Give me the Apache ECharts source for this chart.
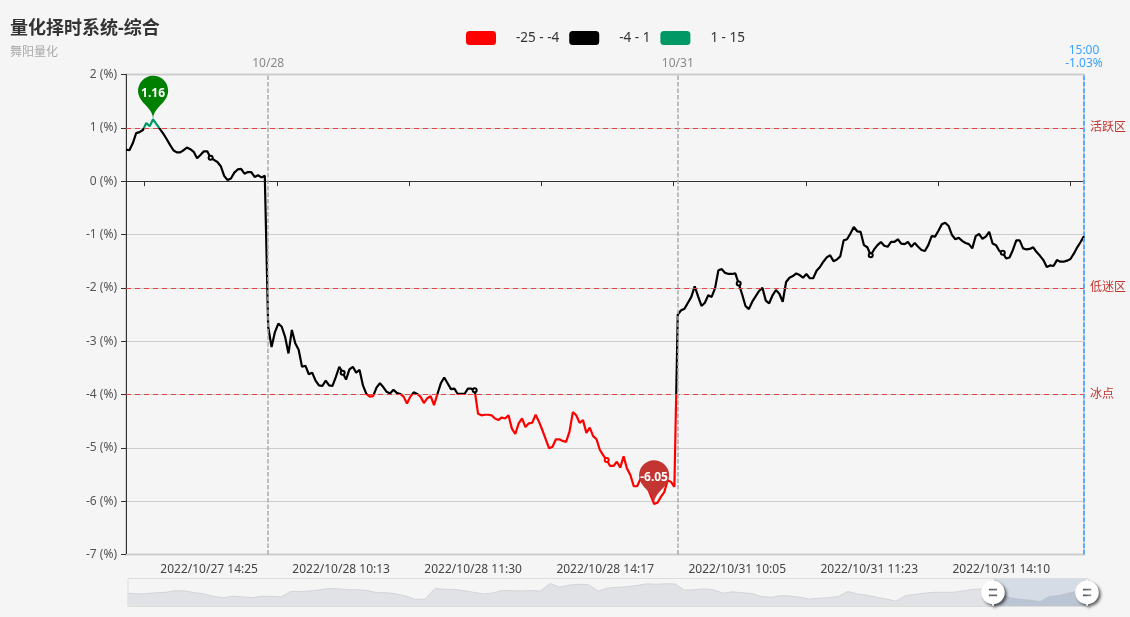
<!DOCTYPE html>
<html>
<head>
<meta charset="utf-8">
<style>html,body{margin:0;padding:0;background:#f5f5f5}#c{width:1130px;height:617px}</style>
<script src="https://cdn.jsdelivr.net/npm/echarts@6/dist/echarts.min.js"></script>
</head>
<body>
<div id="c"></div>
<script>
var titleText = '量化择时系统-综合';
var subText = '舞阳量化';
var tickLabels = ['2022/10/27 14:25','2022/10/28 10:13','2022/10/28 11:30','2022/10/28 14:17','2022/10/31 10:05','2022/10/31 11:23','2022/10/31 14:10'];
var values1027 = [.59,.58,.71,.90,.92,.96,1.09,1.03,1.16,1.07,.98,.89,.79,.68,.58,.54,.54,.58,.63,.60,.55,.43,.49,.56,.56,.44,.40,.36,.28,.10,.02,.05,.16,.22,.23,.14,.17,.17,.08,.11,.07,.10];
var values1028 = [-2.73,-3.11,-2.83,-2.67,-2.73,-2.92,-3.23,-2.79,-3.04,-3.16,-3.48,-3.46,-3.62,-3.59,-3.74,-3.83,-3.84,-3.74,-3.83,-3.84,-3.67,-3.48,-3.59,-3.72,-3.53,-3.48,-3.59,-3.54,-3.83,-3.99,-4.04,-4.03,-3.87,-3.79,-3.86,-3.95,-3.98,-3.91,-3.97,-3.99,-4.04,-4.17,-4.04,-3.96,-3.99,-4.04,-4.16,-4.07,-4.03,-4.2,-3.99,-3.79,-3.68,-3.79,-3.9,-3.89,-3.99,-3.99,-3.99,-3.89,-3.89,-3.92,-4.36,-4.39,-4.38,-4.38,-4.39,-4.45,-4.48,-4.43,-4.45,-4.39,-4.64,-4.74,-4.54,-4.45,-4.61,-4.54,-4.53,-4.38,-4.51,-4.67,-4.84,-5.01,-4.98,-4.84,-4.84,-4.87,-4.89,-4.7,-4.33,-4.39,-4.53,-4.48,-4.72,-4.62,-4.78,-4.84,-5.04,-5.14,-5.23,-5.34,-5.34,-5.26,-5.37,-5.16,-5.39,-5.51,-5.72,-5.72,-5.58,-5.58,-5.73,-5.89,-6.05,-6.03,-5.92,-5.83,-5.61,-5.64,-5.73];
var values1031 = [-2.5,-2.42,-2.39,-2.28,-2.17,-1.97,-2.16,-2.34,-2.28,-2.14,-2.17,-2.01,-1.67,-1.65,-1.72,-1.74,-1.74,-1.73,-1.92,-2.12,-2.34,-2.4,-2.26,-2.16,-2.06,-2.0,-2.24,-2.29,-2.14,-2.04,-2.11,-2.26,-1.89,-1.81,-1.78,-1.73,-1.76,-1.81,-1.74,-1.82,-1.82,-1.68,-1.61,-1.51,-1.43,-1.39,-1.5,-1.47,-1.41,-1.11,-1.09,-.98,-.86,-.94,-.95,-1.2,-1.24,-1.39,-1.28,-1.2,-1.14,-1.21,-1.23,-1.14,-1.14,-1.09,-1.17,-1.18,-1.14,-1.23,-1.16,-1.23,-1.29,-1.31,-1.2,-1.03,-1.04,-.93,-.81,-.78,-.84,-1.01,-1.09,-1.06,-1.12,-1.16,-1.18,-1.26,-1.03,-.99,-1.08,-1.04,-.95,-1.17,-1.2,-1.31,-1.34,-1.45,-1.43,-1.29,-1.11,-1.11,-1.26,-1.28,-1.27,-1.24,-1.33,-1.4,-1.48,-1.61,-1.58,-1.59,-1.48,-1.51,-1.51,-1.49,-1.46,-1.36,-1.24,-1.14,-1.03];
var historyValues = [-5.2,-5.4,-5.3,-5.1,-5.0,-4.6,-4.7,-5.1,-5.4,-6.0,-6.3,-5.9,-6.1,-6.3,-5.9,-6.0,-6.1,-4.8,-4.8,-4.7,-4.4,-4.1,-4.2,-4.4,-4.4,-4.6,-5.1,-5.1,-5.4,-5.9,-6.7,-6.6,-4.1,-4.3,-4.3,-4.6,-5.0,-5.4,-5.2,-4.6,-4.6,-4.7,-4.6,-4.7,-2.9,-3.8,-3.3,-3.1,-3.2,-4.7,-4.0,-3.8,-3.7,-3.4,-3.0,-3.1,-3.0,-3.0,-4.5,-4.4,-4.2,-4.4,-5.2,-4.9,-5.1,-5.3,-6.0,-6.2,-5.8,-5.9,-6.2,-6.6,-6.4,-6.3,-6.0,-4.8,-5.4,-5.7,-6.2,-6.6,-7.1,-5.8,-5.5,-5.2,-5.0,-5.0,-5.0,-4.7,-4.3,-4.2,-4.4,-5.6,-6.4,-6.7,-6.9,-7.2,-6.0,-5.8,-5.2,-4.8,-4.6];
var series = values1027.concat(values1028, values1031);
var day28Index = values1027.length, day31Index = day28Index + values1028.length, lastIndex = series.length - 1;
var labelIndex = [25, 64, 103, 142, 181, 220, 259];
var tickSlots = 566, firstTickSlot = 11, tickStep = 78;

function pad(n) { return (n < 10 ? '0' : '') + n; }
function clock(day, n) {
  var mins = n <= 120 ? 570 + n : 780 + n - 120;
  return '2022/' + day + ' ' + Math.floor(mins / 60) + ':' + pad(mins % 60);
}
var categories = series.map(function (v, k) {
  var pos = labelIndex.indexOf(k);
  if (pos >= 0) return tickLabels[pos];
  if (k < day28Index) return clock('10/27', 240 - (day28Index - 1 - k) * 2);
  if (k < day31Index) return clock('10/28', (k - day28Index) * 2);
  return clock('10/31', (k - day31Index) * 2);
});
var tickCategories = [];
for (var i = 0; i < tickSlots; i++) tickCategories.push('t' + i);
var historyCategories = historyValues.map(function (v, i) { return 'h' + i; });

var fontFamily = '"Noto Sans","Noto Sans CJK SC",sans-serif';
var chart = echarts.init(document.getElementById('c'));
function hLine(y, text) {
  return { yAxis: y, lineStyle: { color: '#e04545', type: [5, 4], width: 1 },
    label: { show: true, position: 'end', formatter: text, color: '#c23531', fontSize: 12, distance: 6 } };
}
function vLine(idx, text, color, labelColor, width) {
  return { xAxis: idx, lineStyle: { color: color, type: [4.5, 2], width: width },
    label: { show: true, position: 'end', formatter: text, color: labelColor, fontSize: 12, lineHeight: 13, distance: 4 } };
}
chart.setOption({
  backgroundColor: '#f5f5f5',
  textStyle: { fontFamily: fontFamily },
  animation: false,
  title: {
    text: titleText, subtext: subText, left: 5, top: 15, itemGap: 9,
    textStyle: { fontSize: 18, fontWeight: 'bold', color: '#333', fontFamily: fontFamily },
    subtextStyle: { fontSize: 12, color: '#aaa', fontFamily: fontFamily }
  },
  visualMap: {
    type: 'piecewise', seriesIndex: 0, orient: 'horizontal', left: 451, top: 16,
    itemWidth: 30, itemHeight: 14, itemGap: 10, textGap: 20, itemSymbol: 'roundRect',
    textStyle: { color: '#333', fontSize: 13.5 },
    pieces: [
      { gt: -25, lte: -4, color: '#ff0000' },
      { gt: -4, lte: 1, color: '#000000' },
      { gt: 1, lte: 15, color: '#009966' }
    ]
  },
  grid: [
    { left: 126, right: 46, top: 74.5, bottom: 62.5, show: true, borderColor: '#d2d2d2', borderWidth: 2, backgroundColor: 'transparent' },
    { left: 0, top: 0, width: 10, height: 10 }
  ],
  xAxis: [
    { type: 'category', gridIndex: 0, position: 'bottom', boundaryGap: false, data: categories,
      axisLine: { onZero: false, lineStyle: { color: '#ccc' } }, axisTick: { show: false },
      axisLabel: { color: '#444', fontSize: 12, margin: 9, hideOverlap: false, padding: [0, 3, 0, 0],
        interval: function (i) { return labelIndex.indexOf(i) >= 0; } },
      splitLine: { show: false } },
    { type: 'category', gridIndex: 0, position: 'top', boundaryGap: false, data: tickCategories,
      axisLine: { onZero: true, lineStyle: { color: '#333' } },
      axisTick: { show: true, inside: true, length: 5, lineStyle: { color: '#333' },
        interval: function (i) { return i >= firstTickSlot && (i - firstTickSlot) % tickStep === 0; } },
      axisLabel: { show: false }, splitLine: { show: false } },
    { type: 'category', gridIndex: 1, show: false, data: historyCategories }
  ],
  yAxis: [
    { type: 'value', gridIndex: 0, min: -7, max: 2, interval: 1,
      axisLine: { show: true, lineStyle: { color: '#333' } }, axisTick: { show: true, length: 5, lineStyle: { color: '#333' } },
      axisLabel: { formatter: '{value} (%)', color: '#555', fontSize: 12, margin: 9 },
      splitLine: { show: true, lineStyle: { color: '#ccc', width: 1 } } },
    { type: 'value', gridIndex: 1, show: false, scale: true }
  ],
  dataZoom: [{
    type: 'slider', xAxisIndex: 2, start: 90, end: 100, left: 125, right: 44.5, top: 578, height: 29,
    showDetail: false, brushSelect: false, moveHandleSize: 0, filterMode: 'none', showDataShadow: true,
    borderColor: '#ddd', backgroundColor: 'transparent', fillerColor: 'rgba(167,183,204,0.4)',
    dataBackground: { lineStyle: { color: '#d2d4d7', width: 1, opacity: 1 }, areaStyle: { color: '#e0e2e5', opacity: 1 } },
    selectedDataBackground: { lineStyle: { color: '#c4cad2', width: 1, opacity: 1 }, areaStyle: { color: '#c9ced6', opacity: 1 } },
    handleIcon: 'M10.7,11.9v-1.3H9.3v1.3c-4.9,0.3-8.8,4.4-8.8,9.4c0,5,3.9,9.1,8.8,9.4v1.3h1.3v-1.3c4.9-0.3,8.8-4.4,8.8-9.4C19.5,16.3,15.6,12.2,10.7,11.9z M13.3,24.4H6.7V23h6.6V24.4z M13.3,19.6H6.7v-1.4h6.6V19.6z',
    handleSize: '92%',
    handleStyle: { color: '#fff', borderWidth: 0, shadowBlur: 3, shadowColor: 'rgba(0,0,0,0.6)', shadowOffsetX: 2, shadowOffsetY: 2 }
  }],
  series: [
    { type: 'line', xAxisIndex: 0, yAxisIndex: 0, data: series, smooth: false, silent: true,
      lineStyle: { width: 2.2 }, showSymbol: true, showAllSymbol: true, symbol: 'emptyCircle',
      itemStyle: { borderWidth: 0.7 },
      symbolSize: function (v, p) { return labelIndex.indexOf(p.dataIndex) >= 0 ? 4 : 0; },
      markPoint: { silent: true, symbol: 'pin', symbolSize: 50,
        label: { color: '#fff', fontSize: 12, fontWeight: 'bold' },
        data: [
          { type: 'max', name: 'max', itemStyle: { color: '#008000' } },
          { type: 'min', name: 'min', itemStyle: { color: '#c23531' } }
        ] },
      markLine: { silent: true, symbol: 'none', animation: false, data: [
        hLine(1, '活跃区'), hLine(-2, '低迷区'), hLine(-4, '冰点'),
        vLine(day28Index, '10/28', '#aaa', '#888', 1.5), vLine(day31Index, '10/31', '#aaa', '#888', 1.5),
        vLine(lastIndex, '15:00\n' + series[lastIndex] + '%', '#5aabff', '#3ba0ff', 2)
      ] } },
    { type: 'line', xAxisIndex: 2, yAxisIndex: 1, data: historyValues, silent: true, showSymbol: false,
      lineStyle: { opacity: 0 } }
  ]
});
</script>
</body>
</html>
